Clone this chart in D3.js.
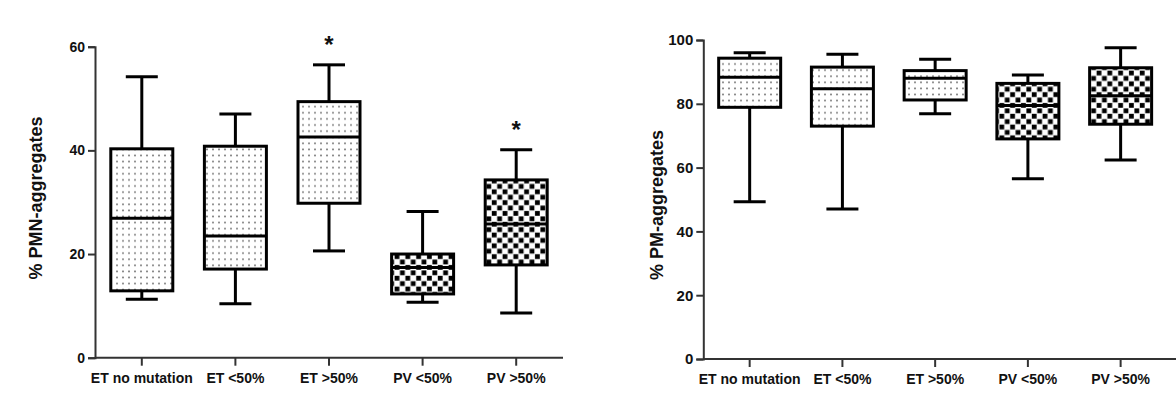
<!DOCTYPE html>
<html>
<head>
<meta charset="utf-8">
<script src="https://cdn.jsdelivr.net/npm/d3@7/dist/d3.min.js"></script>
<style>
  html, body { margin: 0; padding: 0; background: #ffffff; }
  svg { display: block; }
  text { font-family: "Liberation Sans", Arial, sans-serif; font-weight: bold; fill: #111; }
</style>
</head>
<body>
<svg id="chart" width="1176" height="401"></svg>
<script>
// ---------- data ----------
const categories = ["ET no mutation", "ET <50%", "ET >50%", "PV <50%", "PV >50%"];

// Left panel: % PMN-aggregates
const pmnMin    = [11.3, 10.4, 20.6, 10.7, 8.6];
const pmnQ1     = [12.9, 17.1, 29.8, 12.3, 17.9];
const pmnMedian = [26.9, 23.5, 42.6, 17.4, 25.8];
const pmnQ3     = [40.3, 40.8, 49.4, 20.0, 34.3];
const pmnMax    = [54.2, 47.0, 56.5, 28.2, 40.1];
const pmnSignificant = [false, false, true, false, true];
const pmnTicks  = [0, 20, 40, 60];

// Right panel: % PM-aggregates
const pmMin    = [49.3, 47.0, 76.9, 56.5, 62.4];
const pmQ1     = [78.9, 73.0, 81.2, 69.0, 73.6];
const pmMedian = [88.3, 84.7, 88.0, 79.5, 82.5];
const pmQ3     = [94.3, 91.5, 90.4, 86.4, 91.3];
const pmMax    = [96.0, 95.5, 94.0, 89.0, 97.6];
const pmSignificant = [false, false, false, false, false];
const pmTicks  = [0, 20, 40, 60, 80, 100];

// ---------- drawing ----------
const svg = d3.select("#chart");
const defs = svg.append("defs");

// dotted pattern (ET groups)
const dots = defs.append("pattern").attr("id", "dots")
  .attr("patternUnits", "userSpaceOnUse").attr("width", 6).attr("height", 6.1);
dots.append("rect").attr("width", 6).attr("height", 6.1).attr("fill", "#fff");
dots.append("rect").attr("x", 2.2).attr("y", 2.2).attr("width", 1.6).attr("height", 1.6).attr("fill", "#6a6a6a");

// checkerboard pattern (PV groups)
const chk = defs.append("pattern").attr("id", "checker")
  .attr("patternUnits", "userSpaceOnUse").attr("width", 10.8).attr("height", 10.8);
chk.append("rect").attr("width", 10.8).attr("height", 10.8).attr("fill", "#fff");
chk.append("rect").attr("x", 0.4).attr("y", 0.4).attr("width", 4.8).attr("height", 4.8).attr("fill", "#000");
chk.append("rect").attr("x", 5.8).attr("y", 5.8).attr("width", 4.8).attr("height", 4.8).attr("fill", "#000");

function panel(cfg) {
  const g = svg.append("g");
  const x = d3.scaleBand().domain(categories).range([cfg.x0, cfg.x1]).paddingInner(0).paddingOuter(0);
  const y = d3.scaleLinear().domain([0, cfg.yMax]).range([cfg.yBottom, cfg.yTop]);
  const bw = 62, cw = 32;

  // y axis
  const ya = g.append("g").attr("transform", `translate(${cfg.x0},0)`)
    .call(d3.axisLeft(y).tickValues(cfg.ticks).tickSize(7).tickPadding(3).tickFormat(d3.format("d")));
  ya.select(".domain").attr("stroke", "#333").attr("stroke-width", 2);
  ya.selectAll(".tick line").attr("stroke", "#333").attr("stroke-width", 2);
  ya.selectAll(".tick text").attr("font-size", cfg.tickFont).attr("font-family", "Liberation Sans, Arial, sans-serif")
    .attr("font-weight", "bold").attr("fill", "#111");

  // x axis
  const xa = g.append("g").attr("transform", `translate(0,${cfg.yBottom})`)
    .call(d3.axisBottom(x).tickSize(8).tickSizeOuter(0));
  xa.select(".domain").remove();
  xa.append("line").attr("x1", cfg.x0).attr("x2", cfg.xAxisEnd).attr("y1", 0).attr("y2", 0)
    .attr("stroke", "#333").attr("stroke-width", 2);
  xa.selectAll(".tick line").attr("stroke", "#333").attr("stroke-width", 2);
  xa.selectAll(".tick text").attr("font-size", 14).attr("font-family", "Liberation Sans, Arial, sans-serif")
    .attr("font-weight", "bold").attr("fill", "#111").attr("y", 20).attr("dy", "0.35em");

  // y label
  g.append("text")
    .attr("transform", `translate(${cfg.labelX},${cfg.labelY}) rotate(-90)`)
    .attr("text-anchor", "middle").attr("dominant-baseline", "central")
    .attr("font-size", 18).text(cfg.label);

  // boxes
  categories.forEach((c, i) => {
    const cx = x(c) + x.bandwidth() / 2;
    const fill = c.startsWith("PV") ? "url(#checker)" : "url(#dots)";
    const bg = g.append("g");
    // whiskers
    bg.append("line").attr("x1", cx).attr("x2", cx).attr("y1", y(cfg.max[i])).attr("y2", y(cfg.q3[i]))
      .attr("stroke", "#000").attr("stroke-width", 3);
    bg.append("line").attr("x1", cx).attr("x2", cx).attr("y1", y(cfg.q1[i])).attr("y2", y(cfg.min[i]))
      .attr("stroke", "#000").attr("stroke-width", 3);
    bg.append("line").attr("x1", cx - cw / 2).attr("x2", cx + cw / 2).attr("y1", y(cfg.max[i])).attr("y2", y(cfg.max[i]))
      .attr("stroke", "#000").attr("stroke-width", 3);
    bg.append("line").attr("x1", cx - cw / 2).attr("x2", cx + cw / 2).attr("y1", y(cfg.min[i])).attr("y2", y(cfg.min[i]))
      .attr("stroke", "#000").attr("stroke-width", 3);
    // box
    bg.append("rect").attr("x", cx - bw / 2).attr("width", bw)
      .attr("y", y(cfg.q3[i])).attr("height", y(cfg.q1[i]) - y(cfg.q3[i]))
      .attr("fill", fill).attr("stroke", "#000").attr("stroke-width", 3);
    // median
    bg.append("line").attr("x1", cx - bw / 2).attr("x2", cx + bw / 2).attr("y1", y(cfg.median[i])).attr("y2", y(cfg.median[i]))
      .attr("stroke", "#000").attr("stroke-width", 3);
    // significance
    if (cfg.sig[i]) {
      bg.append("text").attr("x", cx).attr("y", y(cfg.max[i]) - 27)
        .attr("text-anchor", "middle").attr("dominant-baseline", "central")
        .attr("font-size", 24).attr("dy", "0.28em").text("*");
    }
  });
}

panel({
  x0: 95, x1: 563, xAxisEnd: 563, yBottom: 357.7, yTop: 46.7, yMax: 60, tickFont: 14,
  ticks: pmnTicks, min: pmnMin, q1: pmnQ1, median: pmnMedian, q3: pmnQ3, max: pmnMax, sig: pmnSignificant,
  label: "% PMN-aggregates", labelX: 36, labelY: 198
});
panel({
  x0: 703.3, x1: 1167, xAxisEnd: 1176, yBottom: 359, yTop: 40, yMax: 100, tickFont: 15,
  ticks: pmTicks, min: pmMin, q1: pmQ1, median: pmMedian, q3: pmQ3, max: pmMax, sig: pmSignificant,
  label: "% PM-aggregates", labelX: 657, labelY: 205
});
</script>
</body>
</html>
